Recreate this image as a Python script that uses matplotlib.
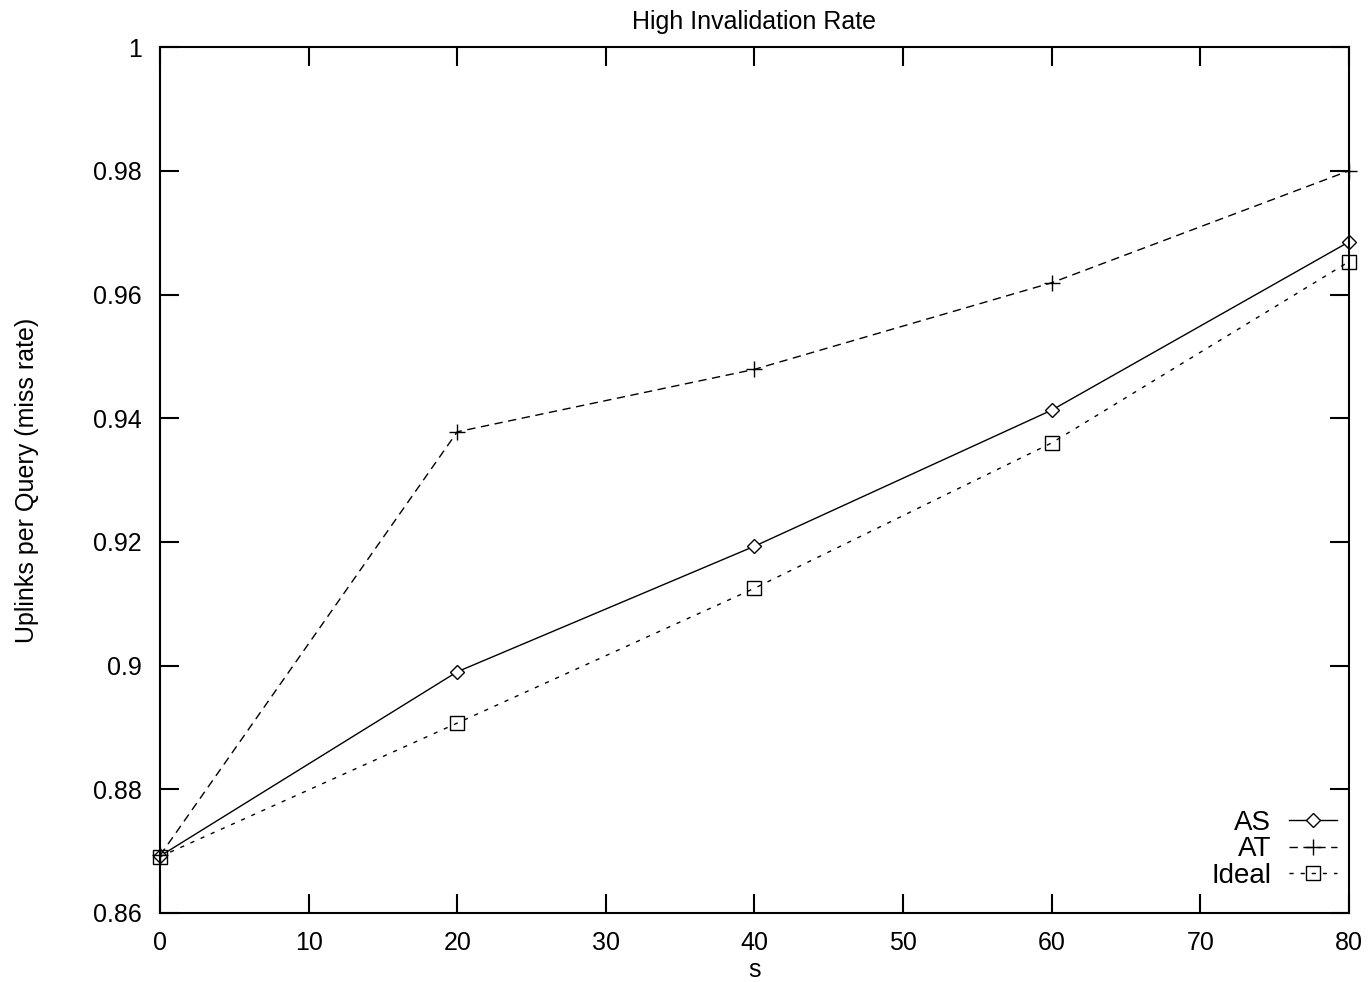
import matplotlib
matplotlib.use("Agg")
import matplotlib.pyplot as plt

plt.rcParams['font.family'] = ['Liberation Sans', 'DejaVu Sans']

# Data
s = [0, 20, 40, 60, 80]
as_vals = [0.8692, 0.8990, 0.9193, 0.9413, 0.9685]
at_vals = [0.8693, 0.9378, 0.9479, 0.9619, 0.9800]
ideal_vals = [0.8691, 0.8907, 0.9125, 0.9360, 0.9653]

fig = plt.figure(figsize=(13.68, 9.82), dpi=100)
ax = fig.add_axes([0.117, 0.0703, 0.869, 0.8817])

ax.plot(s, as_vals, color='black', lw=1, marker='D', ms=7, mfc='white',
        mec='black', mew=1, label='AS', clip_on=False)
ax.plot(s, at_vals, color='black', lw=1, ls=(0, (6, 4)), marker='+', ms=12,
        mew=1, label='AT', clip_on=False)
ax.plot(s, ideal_vals, color='black', lw=1, ls=(0, (3, 5)), marker='s', ms=10,
        mfc='none', mec='black', mew=1, label='Ideal', clip_on=False)

ax.set_xlim(0, 80)
ax.set_ylim(0.86, 1.0)
ax.set_xticks(range(0, 81, 10))
ax.set_yticks([0.86, 0.88, 0.9, 0.92, 0.94, 0.96, 0.98, 1.0])
ax.set_yticklabels(['0.86', '0.88', '0.9', '0.92', '0.94', '0.96', '0.98', '1'])
ax.tick_params(direction='in', length=14, width=1.5, top=True, right=True,
               labelsize=18)
ax.tick_params(axis='y', pad=13)
ax.tick_params(axis='x', pad=13)
for sp in ax.spines.values():
    sp.set_linewidth(1.5)

ax.set_title('High Invalidation Rate', fontsize=18, pad=13)
ax.set_xlabel('s', fontsize=18, labelpad=2)
ax.set_ylabel('Uplinks per Query (miss rate)', fontsize=18, labelpad=39)

ax.legend(loc='lower right', frameon=False, markerfirst=False, fontsize=20,
          handlelength=1.7, labelspacing=0.02, borderaxespad=0,
          handletextpad=0.65, bbox_to_anchor=(0.999, 0.015))

fig.savefig('out.png', dpi=100)
